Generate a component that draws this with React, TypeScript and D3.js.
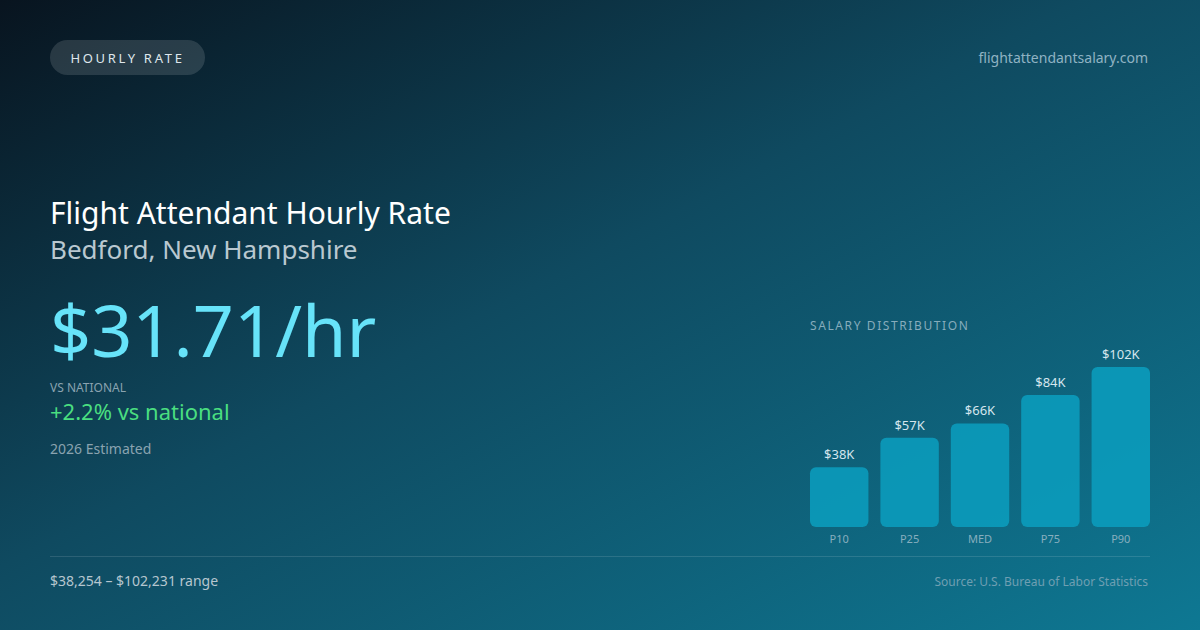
import React from "react";
import * as d3 from "d3";

const categories = ["P10", "P25", "MED", "P75", "P90"];
const values = [38254, 57100, 66200, 84300, 102231];
const valueLabels = ["$38K", "$57K", "$66K", "$84K", "$102K"];

const title = "Flight Attendant Hourly Rate";
const location = "Bedford, New Hampshire";
const hourly = "$31.71/hr";
const versus = "+2.2% vs national";

const W = 1200;
const H = 630;
const font = "'Noto Sans', 'Open Sans', sans-serif";

const App: React.FC = () => {
  const x = d3.scaleBand().domain(categories).range([810, 1150]).paddingInner(0.17).paddingOuter(0);
  const y = d3.scaleLinear().domain([0, 102231]).range([527, 367]);

  return (
    <svg width={W} height={H} style={{ display: "block", position: "absolute", left: 0, top: 0 }} fontFamily={font}>
      <defs>
        <linearGradient id="bg" x1="0" y1="0" x2="1" y2="1">
          <stop offset="0%" stopColor="#08141f" />
          <stop offset="45%" stopColor="#0f4a60" />
          <stop offset="100%" stopColor="#0e7893" />
        </linearGradient>
      </defs>
      <rect width={W} height={H} fill="url(#bg)" />

      {/* pill */}
      <rect x={50} y={40} width={155} height={35} rx={17.5} fill="rgba(255,255,255,0.13)" />
      <text x={127.5} y={62.5} textAnchor="middle" fontSize={13} letterSpacing={2.7} fill="#dfe7ec">HOURLY RATE</text>
      <text x={1148} y={63} textAnchor="end" fontSize={14} fill="#8fb3c3">flightattendantsalary.com</text>

      {/* headline */}
      <text x={50} y={224} fontSize={30} fill="#ffffff">{title}</text>
      <text x={50} y={259} fontSize={26} fill="#b9c8d0">{location}</text>
      <text x={50} y={357} fontSize={72} fill="#67e3f9">{hourly}</text>
      <text x={50} y={392} fontSize={12} fill="#8aa3b0">VS NATIONAL</text>
      <text x={50} y={420} fontSize={22} fill="#4ade80">{versus}</text>
      <text x={50} y={454} fontSize={14} fill="#8aa3b0">2026 Estimated</text>

      {/* chart */}
      <text x={810} y={330} fontSize={12} letterSpacing={1.6} fill="#86acbc">SALARY DISTRIBUTION</text>
      {categories.map((c, i) => {
        const bx = x(c) ?? 0;
        const by = y(values[i]);
        return (
          <g key={c}>
            <rect x={bx} y={by} width={x.bandwidth()} height={y(0) - by} rx={6} fill="#0a9fc0" fillOpacity={0.85} />
            <text x={bx + x.bandwidth() / 2} y={by - 8} textAnchor="middle" fontSize={13} fill="#d5e6ee">{valueLabels[i]}</text>
            <text x={bx + x.bandwidth() / 2} y={543} textAnchor="middle" fontSize={11} fill="#87aebe">{c}</text>
          </g>
        );
      })}

      {/* footer */}
      <line x1={50} x2={1150} y1={556.5} y2={556.5} stroke="rgba(255,255,255,0.12)" />
      <text x={50} y={586} fontSize={14} fill="#b6c6cf">$38,254 – $102,231 range</text>
      <text x={1148} y={586} textAnchor="end" fontSize={12} fill="#6f9fb2">Source: U.S. Bureau of Labor Statistics</text>
    </svg>
  );
};

export default App;
